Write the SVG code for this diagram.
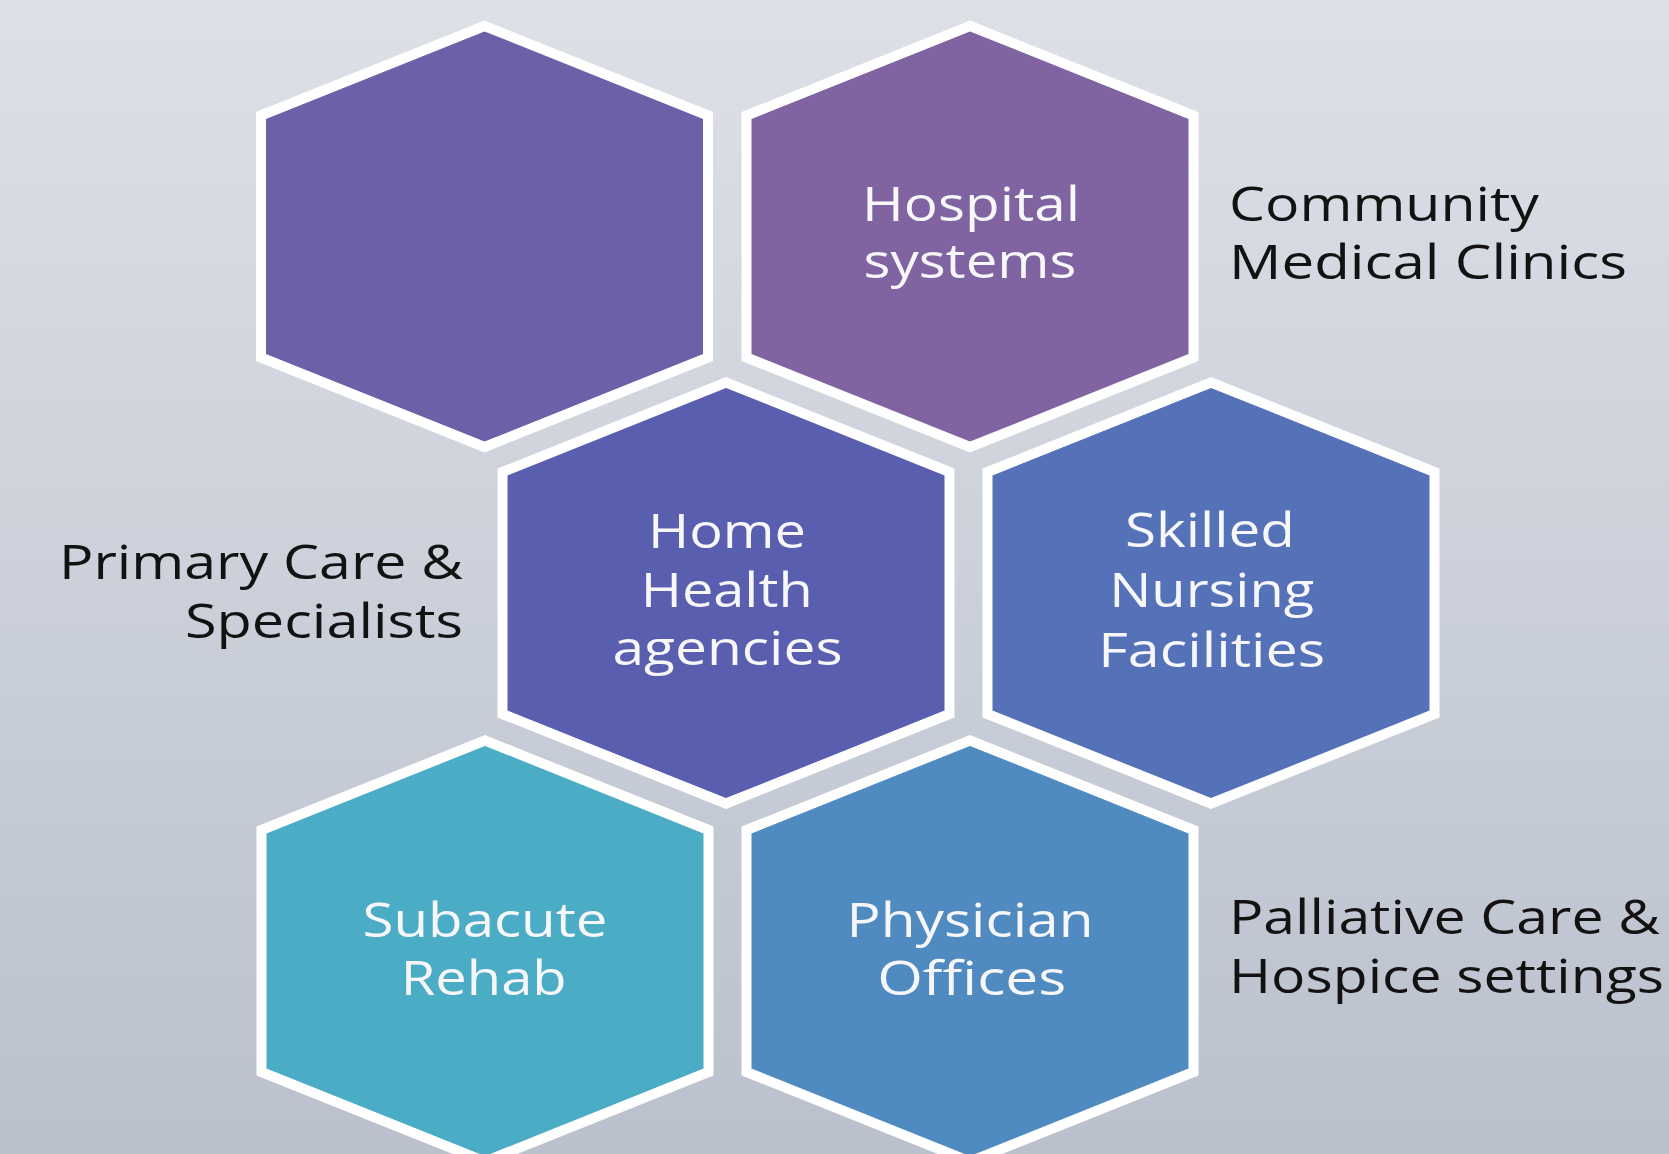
<svg xmlns="http://www.w3.org/2000/svg" xmlns:xlink="http://www.w3.org/1999/xlink" width="1669" height="1154" viewBox="0 0 1669 1154">
  <defs>
    <linearGradient id="bg" x1="0" y1="0" x2="0" y2="1">
      <stop offset="0" stop-color="#DDE0E7"/>
      <stop offset="1" stop-color="#BAC1CD"/>
    </linearGradient>
    <!-- hexagon outline centred on the origin -->
    <polygon id="hex" points="0,-210.5 223.5,-121 223.5,121 0,210.5 -223.5,121 -223.5,-121"/>
  </defs>
  <style>
    .cell { stroke: #FFFFFF; stroke-width: 10; stroke-linejoin: miter; }
    .in { font-family: "Open Sans", "Noto Sans", "Liberation Sans", sans-serif; font-size: 47px; fill: #F7F7FA; text-anchor: middle; }
    .out { font-family: "Open Sans", "Noto Sans", "Liberation Sans", sans-serif; font-size: 47px; fill: #121212; }
  </style>

  <rect x="0" y="0" width="1669" height="1154" fill="url(#bg)"/>

  <g id="hex-blank">
    <use xlink:href="#hex" href="#hex" x="484.5" y="236.5" class="cell" fill="#6E60A8"/>
  </g>

  <g id="hex-hospital">
    <use xlink:href="#hex" href="#hex" x="970" y="236.5" class="cell" fill="#8064A2"/>
    <text class="in" x="971" y="220.7" textLength="218" lengthAdjust="spacingAndGlyphs">Hospital</text>
    <text class="in" x="970" y="278.3" textLength="213" lengthAdjust="spacingAndGlyphs">systems</text>
  </g>

  <g id="hex-home-health">
    <use xlink:href="#hex" href="#hex" x="726" y="593" class="cell" fill="#5A5EAF"/>
    <text class="in" x="727" y="548.3" textLength="158" lengthAdjust="spacingAndGlyphs">Home</text>
    <text class="in" x="726.7" y="606.7" textLength="172" lengthAdjust="spacingAndGlyphs">Health</text>
    <text class="in" x="727.5" y="665" textLength="230" lengthAdjust="spacingAndGlyphs">agencies</text>
  </g>

  <g id="hex-skilled-nursing">
    <use xlink:href="#hex" href="#hex" x="1211" y="593" class="cell" fill="#5572B9"/>
    <text class="in" x="1210" y="547.3" textLength="170" lengthAdjust="spacingAndGlyphs">Skilled</text>
    <text class="in" x="1211.7" y="607" textLength="205" lengthAdjust="spacingAndGlyphs">Nursing</text>
    <text class="in" x="1211.7" y="666.7" textLength="227" lengthAdjust="spacingAndGlyphs">Facilities</text>
  </g>

  <g id="hex-subacute">
    <use xlink:href="#hex" href="#hex" x="485" y="951" class="cell" fill="#4BACC6"/>
    <text class="in" x="485" y="937.3" textLength="245" lengthAdjust="spacingAndGlyphs">Subacute</text>
    <text class="in" x="483.7" y="995" textLength="166" lengthAdjust="spacingAndGlyphs">Rehab</text>
  </g>

  <g id="hex-physician">
    <use xlink:href="#hex" href="#hex" x="970" y="951" class="cell" fill="#4F8BC0"/>
    <text class="in" x="970" y="937.3" textLength="247" lengthAdjust="spacingAndGlyphs">Physician</text>
    <text class="in" x="971.7" y="995" textLength="189" lengthAdjust="spacingAndGlyphs">Offices</text>
  </g>

  <g id="label-community">
    <text class="out" x="1229" y="220.7" textLength="310" lengthAdjust="spacingAndGlyphs">Community</text>
    <text class="out" x="1229" y="279.3" textLength="398" lengthAdjust="spacingAndGlyphs">Medical Clinics</text>
  </g>

  <g id="label-primary-care">
    <text class="out" x="463" y="579" text-anchor="end" textLength="404" lengthAdjust="spacingAndGlyphs">Primary Care &amp;</text>
    <text class="out" x="463" y="637.5" text-anchor="end" textLength="278" lengthAdjust="spacingAndGlyphs">Specialists</text>
  </g>

  <g id="label-palliative">
    <text class="out" x="1229" y="934" textLength="431" lengthAdjust="spacingAndGlyphs">Palliative Care &amp;</text>
    <text class="out" x="1229" y="993" textLength="435" lengthAdjust="spacingAndGlyphs">Hospice settings</text>
  </g>
</svg>
